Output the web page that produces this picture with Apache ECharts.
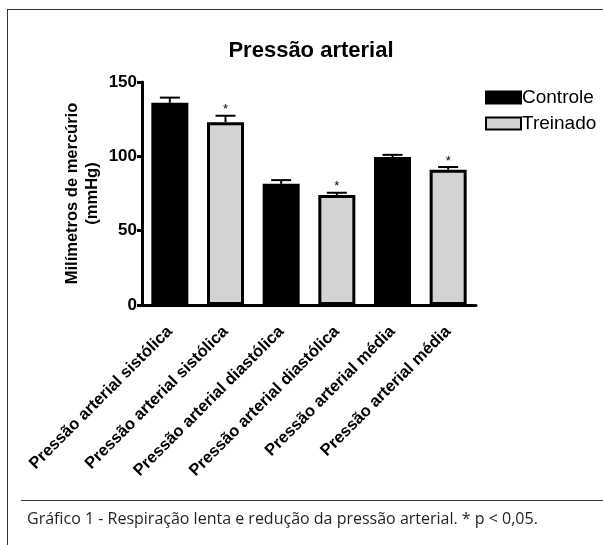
<!DOCTYPE html>
<html><head><meta charset="utf-8">
<script src="https://cdn.jsdelivr.net/npm/echarts@6/dist/echarts.min.js"></script>
<style>html,body{margin:0;padding:0;background:#fff}#c{width:603px;height:545px}</style>
</head><body><div id="c"></div>
<script>
const categories = ["Pressão arterial sistólica","Pressão arterial sistólica","Pressão arterial diastólica","Pressão arterial diastólica","Pressão arterial média","Pressão arterial média"];
const controle = [136, null, 81.5, null, 99.5, null];
const treinado = [null, 123, null, 74, null, 91];
const errors = [3.5, 4.3, 2.5, 1.5, 1.5, 1.8];
const significant = [false, true, false, true, false, true];
const yTicks = [0, 50, 100, 150];

const errData = categories.map((c, i) => {
  const v = controle[i] != null ? controle[i] : treinado[i];
  return [i, v, errors[i], significant[i] ? 1 : 0];
});

const chart = echarts.init(document.getElementById('c'));
chart.setOption({
  animation: false,
  title: { text: 'Pressão arterial', left: 306, top: 35, textAlign: 'center',
    textStyle: { fontFamily: 'Liberation Sans, Arial', fontSize: 22, fontWeight: 'bold', color: '#000' } },
  legend: { orient: 'vertical', left: 480, top: 83, itemGap: 7, itemWidth: 35, itemHeight: 12, icon: 'rect',
    textStyle: { fontFamily: 'Liberation Sans, Arial', fontSize: 19, color: '#000', padding: [0,0,0,-4] },
    data: ['Controle', 'Treinado'] },
  grid: { left: 142, right: 127, top: 82, bottom: 240 },
  xAxis: { type: 'category', data: categories,
    axisLine: { lineStyle: { color: '#000', width: 3 } },
    axisTick: { alignWithLabel: true, length: 6, lineStyle: { color: '#000', width: 2 } },
    axisLabel: { rotate: 45, margin: 24, interval: 0, color: '#000',
      fontFamily: 'Liberation Sans, Arial', fontSize: 16.5, fontWeight: 'bold' } },
  yAxis: { type: 'value', min: 0, max: 150, interval: 50,
    name: 'Milímetros de mercúrio\n(mmHg)', nameLocation: 'middle', nameRotate: 90, nameGap: 40,
    nameMoveOverlap: false,
    nameTextStyle: { fontFamily: 'Liberation Sans, Arial', fontSize: 16.5, fontWeight: 'bold', color: '#000', lineHeight: 20 },
    axisLine: { show: true, lineStyle: { color: '#000', width: 3 } },
    axisTick: { show: true, length: 5, lineStyle: { color: '#000', width: 3 } },
    splitLine: { show: false },
    axisLabel: { color: '#000', margin: 5, fontFamily: 'Liberation Sans, Arial', fontSize: 17, fontWeight: 'bold',
      formatter: v => yTicks.includes(v) ? String(v) : '' } },
  series: [
    { name: 'Controle', type: 'bar', data: controle, barWidth: 37, barGap: '-100%',
      itemStyle: { color: '#000', borderColor: '#000', borderWidth: 3 } },
    { name: 'Treinado', type: 'bar', data: treinado, barWidth: 37, barGap: '-100%',
      itemStyle: { color: '#d3d3d3', borderColor: '#000', borderWidth: 3 } },
    { name: 'err', type: 'custom', data: errData, z: 1,
      encode: { x: 0, y: 1 },
      renderItem: function (params, api) {
        const i = api.value(0), v = api.value(1), e = api.value(2), s = api.value(3);
        const base = api.coord([i, v]);
        const top = api.coord([i, v + e]);
        const children = [
          { type: 'line', shape: { x1: base[0], y1: base[1], x2: top[0], y2: top[1] }, style: { stroke: '#000', lineWidth: 2 } },
          { type: 'line', shape: { x1: top[0] - 10, y1: top[1], x2: top[0] + 10, y2: top[1] }, style: { stroke: '#000', lineWidth: 2 } }
        ];
        if (s) children.push({ type: 'text', x: top[0], y: top[1] - 6,
          style: { text: '*', fill: '#000', font: '13px Liberation Sans, Arial', align: 'center', verticalAlign: 'middle' } });
        return { type: 'group', children: children };
      } }
  ],
  graphic: [
    { type: 'line', shape: { x1: 7, y1: 9.5, x2: 603, y2: 9.5 }, style: { stroke: '#333', lineWidth: 1 } },
    { type: 'line', shape: { x1: 7.5, y1: 9, x2: 7.5, y2: 545 }, style: { stroke: '#333', lineWidth: 1 } },
    { type: 'line', shape: { x1: 21, y1: 500.5, x2: 603, y2: 500.5 }, style: { stroke: '#333', lineWidth: 1 } },
    { type: 'text', left: 27, top: 511, style: { text: 'Gráfico 1 - Respiração lenta e redução da pressão arterial. * p < 0,05.',
      font: '16px "Open Sans", "Noto Sans"', fill: '#231f20' } }
  ]
});
</script></body></html>
